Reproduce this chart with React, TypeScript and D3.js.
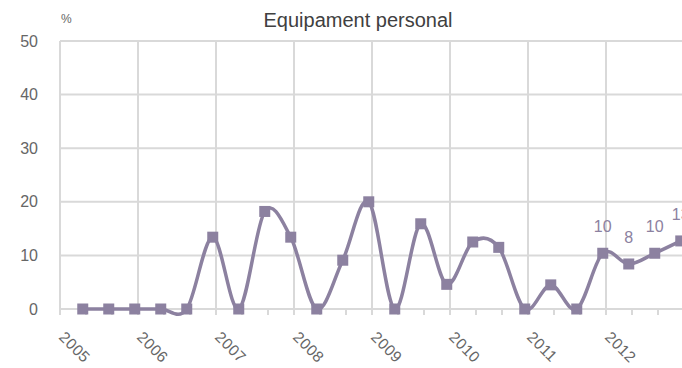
import React, { useEffect, useRef } from 'react';
import * as d3 from 'd3';

// four-month periods, Apr / Aug / Dec of each year
const periods = [
  '2005-04', '2005-08', '2005-12',
  '2006-04', '2006-08', '2006-12',
  '2007-04', '2007-08', '2007-12',
  '2008-04', '2008-08', '2008-12',
  '2009-04', '2009-08', '2009-12',
  '2010-04', '2010-08', '2010-12',
  '2011-04', '2011-08', '2011-12',
  '2012-04', '2012-08', '2012-12',
];
const values = [
  0, 0, 0,
  0, 0, 13.4,
  0, 18.2, 13.4,
  0, 9.1, 20.0,
  0, 15.9, 4.6,
  12.5, 11.5, 0,
  4.5, 0, 10.4,
  8.4, 10.4, 12.7,
];
const labelledPeriods = ['2011-12', '2012-04', '2012-08', '2012-12'];
const years = ['2005', '2006', '2007', '2008', '2009', '2010', '2011', '2012'];
const yTicks = [0, 10, 20, 30, 40, 50];

const W = 682;
const H = 368;
const LINE = '#8c81a0';
const FONT = '"Liberation Sans", Arial, sans-serif';

// months since Jan 2005, centred in the month slot
const monthPos = (p: string) => {
  const [y, m] = p.split('-').map(Number);
  return (y - 2005) * 12 + (m - 1) + 0.5;
};

export default function App() {
  const svgRef = useRef<SVGSVGElement>(null);

  useEffect(() => {
    if (!svgRef.current) return;
    const svg = d3.select(svgRef.current);
    svg.selectAll('*').remove();

    const x = d3.scaleLinear().domain([0, 96]).range([60, 684]);
    const y = d3.scaleLinear().domain([0, 50]).range([309, 41]);

    // horizontal grid
    svg.append('g')
      .selectAll('line')
      .data(yTicks)
      .join('line')
      .attr('x1', x(0)).attr('x2', W)
      .attr('y1', d => y(d)).attr('y2', d => y(d))
      .attr('stroke', '#d9d9d9').attr('stroke-width', 2);

    // vertical grid at each January
    svg.append('g')
      .selectAll('line')
      .data(d3.range(0, 97, 12))
      .join('line')
      .attr('x1', d => x(d)).attr('x2', d => x(d))
      .attr('y1', y(50)).attr('y2', y(0))
      .attr('stroke', '#d9d9d9').attr('stroke-width', 2);

    // small ticks every four months
    svg.append('g')
      .selectAll('line')
      .data(d3.range(0, 97, 4))
      .join('line')
      .attr('x1', d => x(d)).attr('x2', d => x(d))
      .attr('y1', y(0)).attr('y2', y(0) + 6)
      .attr('stroke', '#d9d9d9').attr('stroke-width', 2);

    // y labels
    svg.append('g')
      .selectAll('text')
      .data(yTicks)
      .join('text')
      .attr('x', 38).attr('y', d => y(d))
      .attr('text-anchor', 'end')
      .attr('dominant-baseline', 'central')
      .attr('font-family', FONT).attr('font-size', 16)
      .attr('fill', '#666')
      .text(d => d);

    // x labels, rotated 45°
    svg.append('g')
      .selectAll('text')
      .data(years)
      .join('text')
      .attr('transform', (d, i) => `translate(${x(i * 12) - 2},${y(0) + 29}) rotate(45)`)
      .attr('font-family', FONT).attr('font-size', 15.5)
      .attr('letter-spacing', 0.5)
      .attr('fill', '#666')
      .text(d => d);

    svg.append('text')
      .attr('x', 358).attr('y', 27)
      .attr('text-anchor', 'middle')
      .attr('font-family', FONT).attr('font-size', 20)
      .attr('fill', '#404040')
      .text('Equipament personal');

    svg.append('text')
      .attr('x', 61).attr('y', 23)
      .attr('font-family', FONT).attr('font-size', 12)
      .attr('fill', '#666')
      .text('%');

    const pts = periods.map((p, i) => ({ p, v: values[i] }));
    const line = d3.line<{ p: string; v: number }>()
      .x(d => x(monthPos(d.p)))
      .y(d => y(d.v))
      .curve(d3.curveCardinal.tension(0));

    svg.append('path')
      .datum(pts)
      .attr('d', line)
      .attr('fill', 'none')
      .attr('stroke', LINE)
      .attr('stroke-width', 3.5)
      .attr('stroke-linejoin', 'round');

    svg.append('g')
      .selectAll('rect')
      .data(pts)
      .join('rect')
      .attr('x', d => x(monthPos(d.p)) - 5.5)
      .attr('y', d => y(d.v) - 5.5)
      .attr('width', 11).attr('height', 11)
      .attr('fill', LINE);

    svg.append('g')
      .selectAll('text')
      .data(pts.filter(d => labelledPeriods.includes(d.p)))
      .join('text')
      .attr('x', d => x(monthPos(d.p)))
      .attr('y', d => y(d.v) - 21)
      .attr('text-anchor', 'middle')
      .attr('font-family', FONT).attr('font-size', 16)
      .attr('fill', LINE)
      .text(d => Math.round(d.v));
  }, []);

  return (
    <svg
      ref={svgRef}
      width={W}
      height={H}
      style={{ position: 'absolute', left: 0, top: 0, background: '#fff' }}
    />
  );
}
